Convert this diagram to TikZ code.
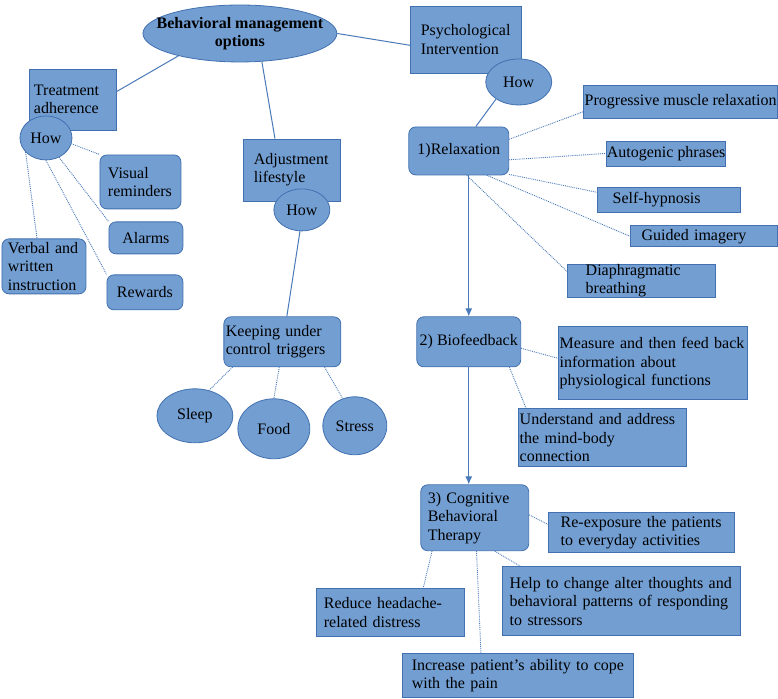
\documentclass[tikz,border=0pt]{standalone}
\usepackage{fontspec}
\setmainfont{Liberation Serif}
\usepackage{tikz}
\usetikzlibrary{arrows.meta,shapes.geometric}
\definecolor{boxblue}{RGB}{114,158,210}
\definecolor{edgeblue}{RGB}{66,112,176}
\definecolor{lineblue}{RGB}{74,122,186}

\begin{document}
\begin{tikzpicture}[x=1pt,y=-1pt,font=\fontsize{16}{18.5}\selectfont,
  sbox/.style={draw=edgeblue,fill=boxblue,line width=0.8pt,inner xsep=5pt,inner ysep=1pt,align=left},
  rbox/.style={sbox,rounded corners=7pt},
  oval/.style={ellipse,draw=edgeblue,fill=boxblue,line width=0.8pt,inner sep=0pt,align=center},
  link/.style={draw=lineblue,line width=1pt},
  dots/.style={draw=lineblue,line width=0.9pt,densely dotted},
  >={Latex[length=8pt,width=7pt]}]

\path[fill=white] (0,0) rectangle (778,699);

\node[oval,minimum width=194pt,minimum height=57pt,label={[font=\fontsize{16}{18.5}\selectfont\bfseries,align=center]center:Behavioral management\\options}] (main) at (240,33.5) {};

\node[sbox,minimum width=87pt,minimum height=61pt,text width=77pt] (ta) at (72.5,99.5) {Treatment\\adherence};
\node[oval,minimum width=52pt,minimum height=44pt] (tahow) at (46,138) {How};
\node[rbox,minimum width=81pt,minimum height=54pt,inner xsep=8pt,text width=65pt] (vis) at (140.5,182) {Visual\\reminders};
\node[rbox,minimum width=74pt,minimum height=32pt,inner xsep=0pt] (alarm) at (146,238) {Alarms};
\node[rbox,minimum width=84pt,minimum height=55pt,inner xsep=6pt,inner ysep=0pt,text width=72pt] (verbal) at (44,266.5) {Verbal and\\written\\instruction};
\node[rbox,minimum width=76pt,minimum height=35pt,inner xsep=0pt] (reward) at (145,292.5) {Rewards};

\node[sbox,minimum width=97pt,minimum height=62pt,inner xsep=10pt,text width=77pt] (adj) at (292.5,170) {Adjustment\\lifestyle};
\node[oval,minimum width=56pt,minimum height=42pt] (adjhow) at (302,210) {How};
\node[rbox,minimum width=117pt,minimum height=50pt,inner xsep=2pt,text width=113pt] (keep) at (282.5,342) {Keeping under\\control triggers};
\node[oval,minimum width=76pt,minimum height=54pt] (sleep) at (195,416) {Sleep};
\node[oval,minimum width=72pt,minimum height=60pt] (food) at (274,429) {Food};
\node[oval,minimum width=64pt,minimum height=58pt] (stress) at (355,426) {Stress};

\node[sbox,minimum width=111pt,minimum height=67pt,inner xsep=10pt,text width=91pt] (psy) at (466.5,39.5) {Psychological\\Intervention};
\node[oval,minimum width=66pt,minimum height=46pt] (psyhow) at (519,82) {How};
\node[rbox,minimum width=100pt,minimum height=48pt,inner xsep=0pt] (relax) at (459,151) {1)Relaxation};
\node[sbox,minimum width=194pt,minimum height=33pt,inner xsep=0pt] (prog) at (681,101.5) {Progressive muscle relaxation};
\node[sbox,minimum width=119pt,minimum height=25pt,inner xsep=0pt] (auto) at (666.5,153.5) {Autogenic phrases};
\node[sbox,minimum width=143pt,minimum height=26pt,inner xsep=15pt,text width=113pt] (self) at (669.5,200) {Self-hypnosis};
\node[sbox,minimum width=147pt,minimum height=21pt,inner xsep=11pt,inner ysep=0pt,text width=125pt] (guided) at (704.5,236.5) {Guided imagery};
\node[sbox,minimum width=148pt,minimum height=32pt,inner xsep=18pt,inner ysep=0pt,text width=112pt] (diaph) at (642,281) {Diaphragmatic\\breathing};

\node[rbox,minimum width=104pt,minimum height=50pt,inner xsep=0pt] (bio) at (469,342) {2) Biofeedback};
\node[sbox,minimum width=189pt,minimum height=73pt,inner xsep=1pt,text width=187pt] (meas) at (653.5,363.5) {Measure and then feed back\\information about\\physiological functions};
\node[sbox,minimum width=168pt,minimum height=58pt,inner xsep=1pt,inner ysep=0pt,text width=166pt] (under) at (603,438) {Understand and address\\the mind-body\\connection};

\node[rbox,minimum width=108pt,minimum height=66pt,inner xsep=7pt,text width=94pt] (cog) at (475,518) {3) Cognitive\\Behavioral\\Therapy};
\node[sbox,minimum width=186pt,minimum height=40pt,inner xsep=12pt,text width=162pt] (reexp) at (642,533) {Re-exposure the patients\\to everyday activities};
\node[sbox,minimum width=238pt,minimum height=69pt,inner xsep=7pt,text width=224pt] (help) at (622,601.5) {Help to change alter thoughts and\\behavioral patterns of responding\\to stressors};
\node[sbox,minimum width=148pt,minimum height=48pt,inner xsep=7pt,text width=134pt] (reduce) at (391,613) {Reduce headache-\\related distress};
\node[sbox,minimum width=231pt,minimum height=44pt,inner xsep=9pt,text width=213pt] (incr) at (518.5,676) {Increase patient’s ability to cope\\with the pain};

\draw[link] (main.200) -- (ta.10); \draw[link] (main.-52) -- (adj.119); \draw[link] (main.east) -- (psy.186);
\draw[link] (adjhow.-95) -- (keep.80); \draw[link] (psyhow.217) -- (relax.55);

\draw[link,->] (relax.south -| bio.north) -- (bio.north);
\draw[link,->] (bio.south) -- (bio.south |- cog.north);

\draw[dots] (tahow.-13) -- (vis.146); \draw[dots] (tahow.-56) -- (alarm.north west);
\draw[dots] (tahow.south) -- (reward.north west); \draw[dots] (tahow.215) -- (verbal.104);

\draw[dots] (keep.207) -- (sleep.61); \draw[dots] (keep.263) -- (food.north); \draw[dots] (keep.-31) -- (stress.114);

\draw[dots] (relax.13) -- (prog.186); \draw[dots] (relax.-10) -- (auto.west); \draw[dots] (relax.-25) -- (self.174);
\draw[dots] (relax.-41) -- (guided.west); \draw[dots] (relax.-72) -- (diaph.173);

\draw[dots] (bio.-7) -- (meas.177); \draw[dots] (bio.-32) -- (under.159);

\draw[dots] (cog.3) -- (reexp.175); \draw[dots] (cog.-59) -- (help.161);
\draw[dots] (cog.218) -- (reduce.37); \draw[dots] (cog.-87) -- (incr.149);

\end{tikzpicture}
\end{document}
